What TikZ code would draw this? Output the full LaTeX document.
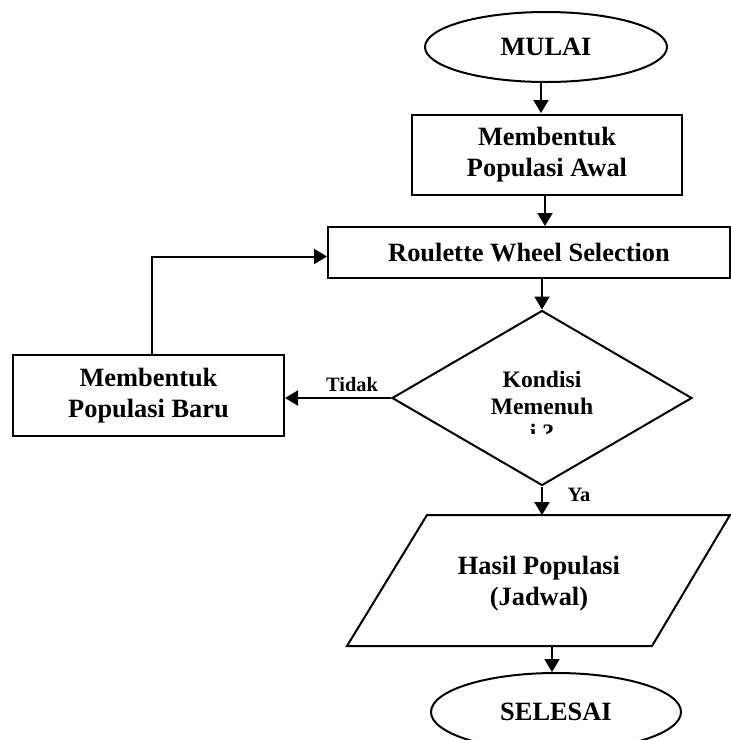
\documentclass[tikz,border=0pt]{standalone}
\usepackage{fontspec}
\setmainfont{Liberation Serif}
\usetikzlibrary{shapes.geometric,arrows.meta}
\begin{document}
\begin{tikzpicture}[x=0.5pt,y=-0.5pt,
  line width=1pt,
  every node/.style={font=\bfseries\fontsize{13.2}{15.5}\selectfont, align=center, inner sep=0pt},
  term/.style={draw, ellipse},
  procbox/.style={draw, rectangle},
  dtext/.style={font=\bfseries\fontsize{11.8}{13.3}\selectfont},
  lbl/.style={font=\bfseries\fontsize{10.2}{12}\selectfont},
  flow/.style={-{Triangle[length=6.5pt,width=7.5pt]}}
]
\useasboundingbox (0,0) rectangle (731,740);

\node[term, minimum width=121pt, minimum height=35pt] (mulai) at (546,47) {MULAI};
\node[procbox, minimum width=135pt, minimum height=40pt] (awal) at (547,155) {Membentuk\\Populasi Awal};
\node[procbox, minimum width=201pt, minimum height=25.5pt] (rws) at (529,252.5) {Roulette Wheel Selection};
\node[draw, diamond, minimum width=150pt, minimum height=87.5pt] (dia) at (542,398) {};
\begin{scope}
  \clip (420,355) rectangle (665,433);
  \node[dtext] (kond) at (542,406) {Kondisi\\Memenuh\\i ?};
\end{scope}
\node[procbox, minimum width=135.5pt, minimum height=40.5pt] (baru) at (148.5,395.5) {Membentuk\\Populasi Baru};

\coordinate (ptl) at (427,515);
\coordinate (ptr) at (730,515);
\coordinate (pbr) at (652,646);
\coordinate (pbl) at (347,646);
\draw (ptl) -- (ptr) -- (pbr) -- (pbl) -- cycle;
\node (hasil) at (539,584) {Hasil Populasi\\(Jadwal)};
\coordinate (pout) at (552,646);

\node[term, minimum width=125pt, minimum height=39pt] (sel) at (556,712) {SELESAI};

\node[lbl] (tidak) at (352,385) {Tidak};
\node[lbl] (ya) at (579,495) {Ya};

\draw[flow] (mulai.south -| 541,0) -- (541,113);
\draw[flow] (awal.south -| 545,0) -- (rws.north -| 545,0);
\draw[flow] (rws.south -| dia.north) -- (dia.north);
\draw[flow] (dia.west) -- (dia.west -| baru.east);
\draw[flow] (baru.north -| 152,0) |- ([yshift=-2pt]rws.west);
\draw[flow] (dia.south) -- (dia.south |- ptl);
\draw[flow] (pout) -- (pout |- sel.north);
\end{tikzpicture}
\end{document}
